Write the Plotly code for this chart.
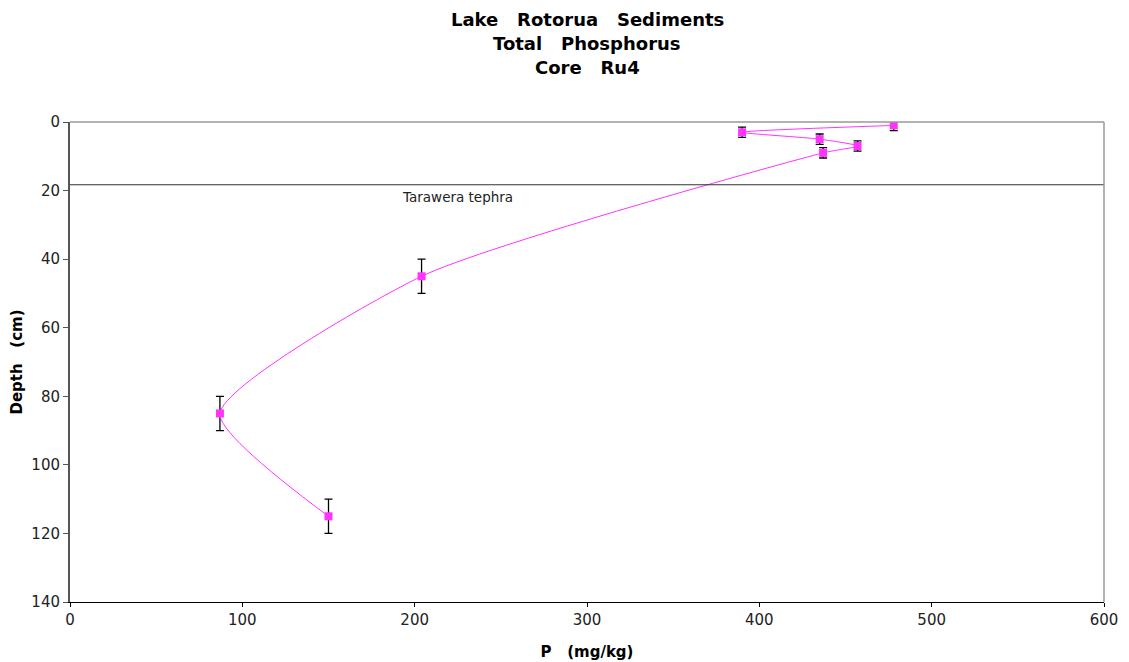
import plotly.graph_objects as go

# Total phosphorus profile, core Ru4
phosphorus = [478, 390, 435, 457, 437, 204, 87, 150]   # mg/kg
depth = [1, 3, 5, 7, 9, 45, 85, 115]                   # cm
depth_err = [1.5, 1.5, 1.5, 1.5, 1.5, 5, 5, 5]         # cm

tephra_depth = 18.3
tephra_label = "Tarawera tephra"

x_ticks = [0, 100, 200, 300, 400, 500, 600]
y_ticks = [0, 20, 40, 60, 80, 100, 120, 140]

NB = "\u00a0"
title_lines = [f"Lake{NB*3}Rotorua{NB*3}Sediments",
               f"Total{NB*3}Phosphorus",
               f"Core{NB*3}Ru4"]

PLOT_TOP, PLOT_H = 122, 480   # plot area, pixels

fig = go.Figure()
fig.add_trace(go.Scatter(
    x=phosphorus, y=depth,
    mode="lines+markers",
    line=dict(color="#FF33FF", width=1, shape="spline", smoothing=0.6),
    marker=dict(symbol="square", size=8, color="#FF33FF"),
    error_y=dict(type="data", array=depth_err, visible=True,
                 color="black", thickness=1.3, width=4),
    showlegend=False,
))

fig.add_shape(type="line", xref="paper", yref="y", x0=0, x1=1,
              y0=tephra_depth, y1=tephra_depth,
              line=dict(color="#333333", width=1.2))
fig.add_annotation(x=225, y=21.9, text=tephra_label, showarrow=False,
                   xanchor="center", yanchor="middle",
                   font=dict(family="DejaVu Sans", size=13.5, color="#222222"))

# three-line title, one annotation per line
for line, py in zip(title_lines, [19, 43, 68]):
    fig.add_annotation(xref="paper", yref="paper", x=0.5,
                       y=1 + (PLOT_TOP - py) / PLOT_H, text=line,
                       showarrow=False, xanchor="center", yanchor="middle",
                       font=dict(family="DejaVu Sans", size=18, color="black",
                                 weight="bold"))

fig.update_layout(
    width=1129, height=662,
    margin=dict(l=70, r=25, t=PLOT_TOP, b=60),
    paper_bgcolor="white", plot_bgcolor="white",
    font=dict(family="DejaVu Sans", size=15, color="#222222"),
)

fig.update_xaxes(range=[0, 600], tickvals=x_ticks, showgrid=False, zeroline=False,
                 automargin=False,
                 showline=True, linecolor="black", linewidth=1.3, mirror=False,
                 ticks="outside", ticklen=4, tickcolor="black",
                 title=dict(text=f"P{NB*3}(mg/kg)", standoff=18,
                            font=dict(family="DejaVu Sans", size=15,
                                      color="black", weight="bold")))
fig.update_yaxes(range=[140, 0], tickvals=y_ticks, showgrid=False, zeroline=False,
                 automargin=False,
                 showline=True, linecolor="#555555", linewidth=2,
                 ticks="outside", ticklen=5, tickcolor="#555555",
                 title=dict(text=f"Depth{NB*3}(cm)", standoff=5,
                            font=dict(family="DejaVu Sans", size=15,
                                      color="black", weight="bold")))

# light frame along the top and right of the plot area
fig.add_shape(type="line", xref="paper", yref="paper", x0=0, x1=1, y0=1, y1=1,
              line=dict(color="#999999", width=1.5))
fig.add_shape(type="line", xref="paper", yref="paper", x0=1, x1=1, y0=0, y1=1,
              line=dict(color="#999999", width=1.5))

fig.write_html("out.html")
